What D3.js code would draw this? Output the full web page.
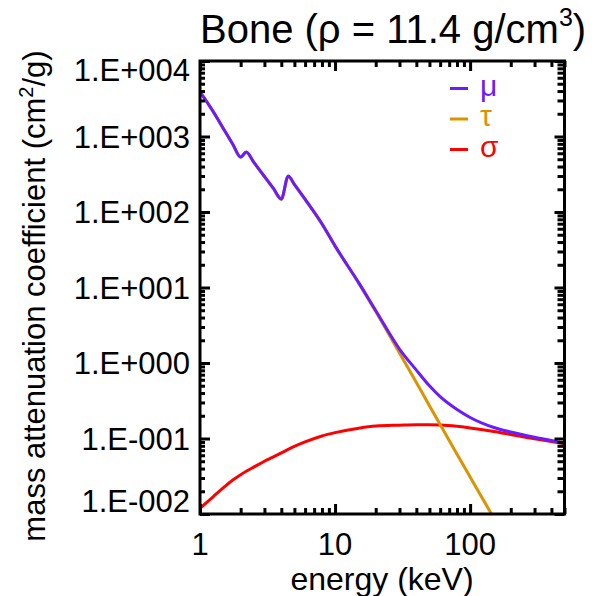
<!DOCTYPE html>
<html>
<head>
<meta charset="utf-8">
<script src="https://cdn.jsdelivr.net/npm/d3@7"></script>
<style>
  body { margin: 0; background: #fff; }
  text { font-family: "Liberation Sans", Arial, sans-serif; fill: #000; }
</style>
</head>
<body>
<div id="chart"></div>
<script>
// chart size
const width = 595;
const height = 596;

// energies (keV) and mass attenuation values (cm2/g)
const energy = [1, 1.25, 1.5, 1.75, 2, 2.2, 2.5, 3, 3.5, 4, 4.5, 5, 6, 8, 10, 15, 20, 30, 40, 50, 60, 80, 100, 150, 200, 300, 400, 500];
const mu    = [3900, 2150, 1250, 790, 535, 624, 459, 297, 205, 149, 300, 233, 148, 70, 35.6, 11.5, 4.96, 1.53, 0.805, 0.498, 0.358, 0.242, 0.19, 0.14, 0.122, 0.104, 0.094, 0.086];
const tau   = [3890, 2140, 1240, 785, 530, 618, 454, 293, 202, 147, 296, 230, 146, 69, 35.2, 11.35, 4.8, 1.36, 0.553, 0.272, 0.153, 0.062, 0.031, 0.0088, 0.0036, 0.001, 0.00045, 0.00022];
const sigma = [0.0119, 0.0169, 0.0225, 0.0282, 0.0332, 0.0368, 0.0418, 0.050, 0.057, 0.0645, 0.0717, 0.0784, 0.090, 0.108, 0.1195, 0.137, 0.146, 0.150, 0.152, 0.152, 0.151, 0.145, 0.138, 0.124, 0.113, 0.099, 0.091, 0.085];

const xTickValues = [1, 10, 100];
const xTickLabels = ["1", "10", "100"];
const yTickValues = [1e-2, 1e-1, 1e0, 1e1, 1e2, 1e3, 1e4];
const yTickLabels = ["1.E-002", "1.E-001", "1.E+000", "1.E+001", "1.E+002", "1.E+003", "1.E+004"];

const seriesNames = ["\u03bc", "\u03c4", "\u03c3"];
const seriesColors = ["#6a1bff", "#dd9200", "#ff0000"];

const plot = { left: 200, right: 564.5, top: 61, bottom: 514 };

const svg = d3.select("#chart")
    .append("svg")
    .attr("width", width)
    .attr("height", height);

const x = d3.scaleLog().domain([1, 500]).range([plot.left, plot.right]);
const y = d3.scaleLog().domain([1e-2, 1e4]).range([plot.bottom, plot.top]);

// minor ticks 2..9 in each decade
const xMinor = [];
[1, 10, 100].forEach(d => { for (let k = 2; k <= 9; k++) if (d * k <= 500) xMinor.push(d * k); });
const yMinor = [];
[1e-2, 1e-1, 1e0, 1e1, 1e2, 1e3].forEach(d => { for (let k = 2; k <= 9; k++) yMinor.push(d * k); });

svg.append("clipPath").attr("id", "clip")
    .append("rect")
    .attr("x", plot.left).attr("y", plot.top)
    .attr("width", plot.right - plot.left).attr("height", plot.bottom - plot.top);

// curves
const line = d3.line()
    .x(d => x(d[0]))
    .y(d => y(d[1]))
    .curve(d3.curveMonotoneX);

const drawOrder = [[sigma, 2], [tau, 1], [mu, 0]];
drawOrder.forEach(([vals, i]) => {
    svg.append("path")
        .datum(energy.map((e, j) => [e, vals[j]]))
        .attr("clip-path", "url(#clip)")
        .attr("fill", "none")
        .attr("stroke", seriesColors[i])
        .attr("stroke-width", 3)
        .attr("d", line);
});

// ticks on all four sides, pointing inward
function tickAxis(gen, transform, values, size) {
    const g = svg.append("g")
        .attr("transform", transform)
        .call(gen.tickValues(values).tickSize(size).tickSizeOuter(0).tickFormat(""));
    g.select(".domain").remove();
    g.selectAll(".tick line").attr("stroke", "#000").attr("stroke-width", 3);
}
tickAxis(d3.axisBottom(x), `translate(0,${plot.bottom})`, xMinor, -6);
tickAxis(d3.axisBottom(x), `translate(0,${plot.bottom})`, xTickValues, -10);
tickAxis(d3.axisTop(x), `translate(0,${plot.top})`, xMinor, -6);
tickAxis(d3.axisTop(x), `translate(0,${plot.top})`, xTickValues, -10);
tickAxis(d3.axisLeft(y), `translate(${plot.left},0)`, yMinor, -5);
tickAxis(d3.axisLeft(y), `translate(${plot.left},0)`, yTickValues, -10);
tickAxis(d3.axisRight(y), `translate(${plot.right},0)`, yMinor, -7);
tickAxis(d3.axisRight(y), `translate(${plot.right},0)`, yTickValues, -10);

// frame
svg.append("rect")
    .attr("x", plot.left).attr("y", plot.top)
    .attr("width", plot.right - plot.left).attr("height", plot.bottom - plot.top)
    .attr("fill", "none")
    .attr("stroke", "#000")
    .attr("stroke-width", 3);

// tick labels
svg.selectAll(".xlab")
    .data(xTickValues)
    .enter().append("text")
    .attr("x", d => x(d))
    .attr("y", 555)
    .attr("text-anchor", "middle")
    .attr("font-size", 31)
    .text((d, i) => xTickLabels[i]);

svg.selectAll(".ylab")
    .data(yTickValues)
    .enter().append("text")
    .attr("x", 190)
    .attr("y", (d, i) => {
        // end labels are pulled inside the frame
        if (i === 0) return y(d) - 2;
        if (i === yTickValues.length - 1) return y(d) + 20;
        return y(d) + 11;
    })
    .attr("text-anchor", "end")
    .attr("font-size", 31)
    .text((d, i) => yTickLabels[i]);

// axis titles
svg.append("text")
    .attr("x", 382)
    .attr("y", 590)
    .attr("text-anchor", "middle")
    .attr("font-size", 32)
    .text("energy (keV)");

const yt = svg.append("text")
    .attr("transform", "translate(45,296) rotate(-90)")
    .attr("text-anchor", "middle")
    .attr("font-size", 31);
yt.append("tspan").text("mass attenuation coefficient (cm");
yt.append("tspan").attr("font-size", 20).attr("dy", -12).text("2");
yt.append("tspan").attr("dy", 12).text("/g)");

// title
const title = svg.append("text")
    .attr("x", 200)
    .attr("y", 43)
    .attr("font-size", 40);
title.append("tspan").text("Bone (\u03c1 = 11.4 g/cm");
title.append("tspan").attr("font-size", 25).attr("dy", -17).text("3");
title.append("tspan").attr("dy", 17).text(")");

// legend
const legend = svg.selectAll(".leg")
    .data(seriesNames)
    .enter().append("g")
    .attr("transform", (d, i) => `translate(450,${88.5 + i * 30.5})`);
legend.append("line")
    .attr("x1", 0).attr("x2", 18)
    .attr("stroke", (d, i) => seriesColors[i])
    .attr("stroke-width", 3);
legend.append("text")
    .attr("x", 30)
    .attr("y", 7)
    .attr("font-size", 30)
    .style("fill", (d, i) => seriesColors[i])
    .text(d => d);
</script>
</body>
</html>
